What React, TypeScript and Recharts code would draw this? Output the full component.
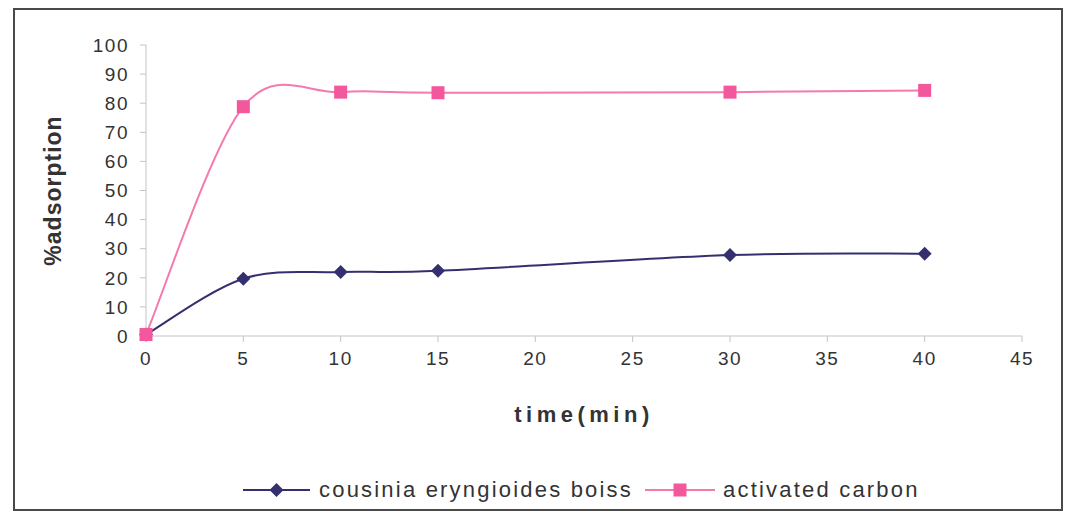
import { LineChart, Line, XAxis, YAxis, Legend } from 'recharts';

const times = [0, 5, 10, 15, 30, 40];
const cousinia = [0.5, 19.7, 22, 22.4, 27.8, 28.3];
const activatedCarbon = [0.5, 78.8, 83.8, 83.6, 83.8, 84.4];
const xTicks = [0, 5, 10, 15, 20, 25, 30, 35, 40, 45];
const yTicks = [0, 10, 20, 30, 40, 50, 60, 70, 80, 90, 100];

const navy = '#34306f';
const pink = '#f2589b';
const pinkLine = '#f47aae';

const data = times.map((t, i) => ({ time: t, cousinia: cousinia[i], carbon: activatedCarbon[i] }));

const font = 'Liberation Sans, Arial, sans-serif';

// Excel-like smoothed line (Catmull-Rom through the points)
function smoothCurve(context: any) {
  let pts: number[][] = [];
  return {
    areaStart() {},
    areaEnd() {},
    lineStart() {
      pts = [];
    },
    point(x: number, y: number) {
      pts.push([+x, +y]);
    },
    lineEnd() {
      if (!pts.length) return;
      context.moveTo(pts[0][0], pts[0][1]);
      for (let i = 0; i < pts.length - 1; i++) {
        const p0 = pts[i - 1] || pts[i];
        const p1 = pts[i];
        const p2 = pts[i + 1];
        const p3 = pts[i + 2] || p2;
        context.bezierCurveTo(
          p1[0] + (p2[0] - p0[0]) / 6,
          p1[1] + (p2[1] - p0[1]) / 6,
          p2[0] - (p3[0] - p1[0]) / 6,
          p2[1] - (p3[1] - p1[1]) / 6,
          p2[0],
          p2[1],
        );
      }
    },
  };
}

function Diamond({ cx, cy, fill }: any) {
  if (cx == null || cy == null) return null;
  const s = 7;
  return <path d={`M${cx},${cy - s}L${cx + s},${cy}L${cx},${cy + s}L${cx - s},${cy}Z`} fill={fill} />;
}

function Square({ cx, cy, fill }: any) {
  if (cx == null || cy == null) return null;
  const s = 6.5;
  return <rect x={cx - s} y={cy - s} width={s * 2} height={s * 2} fill={fill} />;
}

function LegendContent() {
  const items = [
    { label: 'cousinia eryngioides boiss', color: navy, marker: 'diamond', w: 67, gap: 9, after: 12 },
    { label: 'activated carbon', color: pinkLine, marker: 'square', w: 70, gap: 8, after: 0 },
  ];
  return (
    <div
      style={{
        display: 'flex',
        justifyContent: 'flex-start',
        alignItems: 'center',
        marginTop: 46,
        paddingLeft: 243,
        fontFamily: font,
        fontSize: 22,
        color: '#333',
      }}
    >
      {items.map((it) => (
        <div key={it.label} style={{ display: 'flex', alignItems: 'center', marginRight: it.after }}>
          <svg width={it.w} height={20} style={{ marginRight: it.gap }}>
            <line x1={0} y1={10} x2={it.w} y2={10} stroke={it.color} strokeWidth={2} />
            {it.marker === 'diamond' ? (
              <path d={`M${it.w / 2},3L${it.w / 2 + 7},10L${it.w / 2},17L${it.w / 2 - 7},10Z`} fill={navy} />
            ) : (
              <rect x={it.w / 2 - 6.5} y={3.5} width={13} height={13} fill={pink} />
            )}
          </svg>
          <span style={{ letterSpacing: 2.2 }}>{it.label}</span>
        </div>
      ))}
    </div>
  );
}

export default function App() {
  return (
    <div style={{ position: 'absolute', left: 0, top: 0, width: 1072, height: 517, background: '#fff' }}>
      <div
        style={{
          position: 'absolute',
          left: 13,
          top: 8,
          width: 1046,
          height: 499,
          border: '2px solid #4a4a4a',
        }}
      />
      <div style={{ position: 'absolute', left: 0, top: 0 }}>
        <LineChart width={1072} height={517} data={data} margin={{ top: 45, right: 50, left: 0, bottom: 0 }}>
          <XAxis
            dataKey="time"
            type="number"
            domain={[0, 45]}
            ticks={xTicks}
            height={95}
            stroke="#c4c4c4"
            tickSize={6}
            tick={{ fill: '#333', fontSize: 19, fontFamily: font, letterSpacing: 1.5 }}
            tickMargin={10}
            label={{
              value: 'time(min)',
              position: 'insideTop',
              dy: 65,
              fill: '#333',
              fontSize: 22,
              fontWeight: 'bold',
              fontFamily: font,
              letterSpacing: 4.5,
            }}
          />
          <YAxis
            type="number"
            domain={[0, 100]}
            ticks={yTicks}
            width={146}
            stroke="#c4c4c4"
            tickSize={6}
            tickMargin={11}
            tick={{ fill: '#333', fontSize: 19, fontFamily: font, letterSpacing: 1.5 }}
            label={{
              value: '%adsorption',
              angle: -90,
              position: 'insideLeft',
              dx: 48,
              textAnchor: 'middle',
              fill: '#333',
              fontSize: 23,
              fontWeight: 'bold',
              fontFamily: font,
              letterSpacing: 1,
            }}
          />
          <Legend
            verticalAlign="bottom"
            height={86}
            wrapperStyle={{ left: 0, width: 1072 }}
            content={<LegendContent />}
          />
          <Line
            type={smoothCurve as any}
            dataKey="cousinia"
            name="cousinia eryngioides boiss"
            stroke={navy}
            strokeWidth={2}
            dot={<Diamond fill={navy} />}
            isAnimationActive={false}
          />
          <Line
            type={smoothCurve as any}
            dataKey="carbon"
            name="activated carbon"
            stroke={pinkLine}
            strokeWidth={2}
            dot={<Square fill={pink} />}
            isAnimationActive={false}
          />
        </LineChart>
      </div>
    </div>
  );
}
